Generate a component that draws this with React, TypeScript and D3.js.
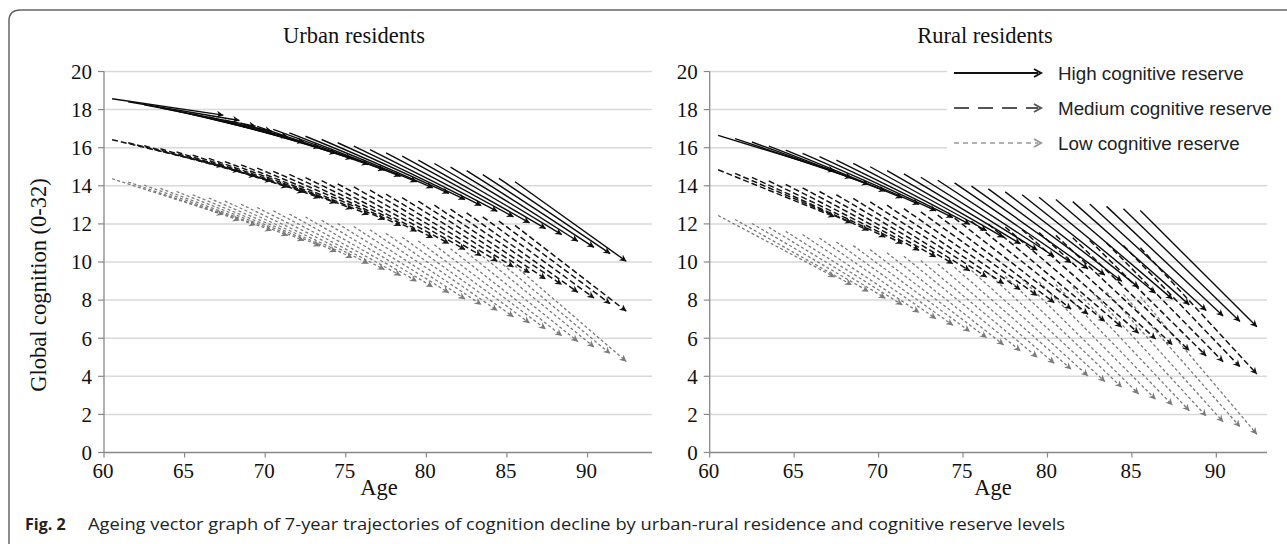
import React from "react";
import * as d3 from "d3";

// baseline age of each trajectory and the age 7 years later
const ageStart = [60.5, 61.5, 62.5, 63.5, 64.5, 65.5, 66.5, 67.5, 68.5, 69.5, 70.5, 71.5, 72.5, 73.5, 74.5, 75.5, 76.5, 77.5, 78.5, 79.5, 80.5, 81.5, 82.5, 83.5, 84.5, 85.5];
const ageEnd = [67.4, 68.4, 69.4, 70.4, 71.4, 72.4, 73.4, 74.4, 75.4, 76.4, 77.4, 78.4, 79.4, 80.4, 81.4, 82.4, 83.4, 84.4, 85.4, 86.4, 87.4, 88.4, 89.4, 90.4, 91.4, 92.4];

const urbanHighStart = [18.57, 18.41, 18.25, 18.09, 17.93, 17.77, 17.61, 17.45, 17.29, 17.12, 16.96, 16.78, 16.6, 16.43, 16.26, 16.08, 15.9, 15.73, 15.56, 15.35, 15.17, 14.98, 14.8, 14.59, 14.39, 14.21];
const urbanHighEnd = [17.71, 17.43, 17.13, 16.87, 16.57, 16.29, 16.0, 15.7, 15.42, 15.12, 14.82, 14.5, 14.21, 13.89, 13.6, 13.28, 12.96, 12.66, 12.37, 12.05, 11.75, 11.44, 11.09, 10.77, 10.44, 10.04];
const urbanMedStart = [16.42, 16.26, 16.1, 15.94, 15.78, 15.61, 15.44, 15.27, 15.1, 14.93, 14.76, 14.6, 14.43, 14.27, 14.1, 13.94, 13.77, 13.56, 13.38, 13.19, 12.98, 12.77, 12.58, 12.37, 12.15, 11.92];
const urbanMedEnd = [15.03, 14.77, 14.5, 14.24, 13.93, 13.66, 13.37, 13.1, 12.79, 12.49, 12.23, 11.91, 11.61, 11.27, 10.97, 10.65, 10.33, 10.04, 9.74, 9.43, 9.11, 8.81, 8.41, 8.11, 7.81, 7.42];
const urbanLowStart = [14.37, 14.2, 14.03, 13.86, 13.7, 13.53, 13.36, 13.2, 13.03, 12.86, 12.69, 12.52, 12.36, 12.19, 12.02, 11.86, 11.69, 11.5, 11.3, 11.1, 10.9, 10.7, 10.5, 10.3, 10.05, 9.8];
const urbanLowEnd = [12.49, 12.19, 11.93, 11.65, 11.39, 11.12, 10.84, 10.53, 10.22, 9.92, 9.6, 9.29, 8.99, 8.69, 8.38, 8.06, 7.76, 7.45, 7.12, 6.8, 6.48, 6.13, 5.83, 5.54, 5.19, 4.78];

const ruralHighStart = [16.65, 16.48, 16.3, 16.08, 15.87, 15.7, 15.53, 15.35, 15.18, 15.0, 14.8, 14.63, 14.45, 14.29, 14.15, 13.98, 13.84, 13.68, 13.53, 13.4, 13.28, 13.17, 13.05, 12.92, 12.8, 12.7];
const ruralHighEnd = [14.77, 14.42, 14.07, 13.72, 13.37, 13.02, 12.68, 12.33, 11.98, 11.64, 11.29, 10.95, 10.62, 10.29, 9.96, 9.64, 9.31, 8.99, 8.67, 8.36, 8.05, 7.75, 7.45, 7.16, 6.88, 6.6];
const ruralMedStart = [14.84, 14.65, 14.44, 14.25, 14.07, 13.89, 13.7, 13.53, 13.34, 13.16, 12.98, 12.8, 12.63, 12.46, 12.3, 12.14, 11.99, 11.84, 11.69, 11.55, 11.4, 11.27, 11.13, 11.0, 10.87, 10.75];
const ruralMedEnd = [12.37, 12.05, 11.66, 11.31, 10.96, 10.61, 10.26, 9.91, 9.54, 9.21, 8.86, 8.54, 8.23, 7.87, 7.53, 7.26, 6.87, 6.58, 6.26, 5.96, 5.65, 5.35, 5.07, 4.77, 4.5, 4.12];
const ruralLowStart = [12.44, 12.23, 12.02, 11.82, 11.61, 11.44, 11.26, 11.05, 10.86, 10.65, 10.48, 10.3, 10.08, 9.9, 9.72, 9.56, 9.4, 9.25, 9.1, 8.96, 8.82, 8.68, 8.55, 8.42, 8.3, 8.18];
const ruralLowEnd = [9.21, 8.8, 8.45, 8.1, 7.75, 7.35, 7.02, 6.68, 6.35, 6.02, 5.65, 5.33, 5.0, 4.68, 4.37, 4.02, 3.72, 3.42, 3.07, 2.79, 2.49, 2.19, 1.91, 1.61, 1.35, 0.96];

const xTicks = [60, 65, 70, 75, 80, 85, 90];
const yTicks = [0, 2, 4, 6, 8, 10, 12, 14, 16, 18, 20];
const levels = ["High cognitive reserve", "Medium cognitive reserve", "Low cognitive reserve"];

const serif = "'Liberation Serif', 'Times New Roman', serif";
const sans = "'Liberation Sans', Arial, sans-serif";

const styles = [
  { color: "#0d0d0d", dash: null, width: 1.4, marker: "ahHigh" },
  { color: "#141414", dash: "6,3", width: 1.5, marker: "ahMed" },
  { color: "#7a7a7a", dash: "3,2.4", width: 1.3, marker: "ahLow" },
];

function Panel({ title, titleX, xMax, x0, x1, series }) {
  const x = d3.scaleLinear().domain([60, xMax]).range([x0, x1]);
  const y = d3.scaleLinear().domain([0, 20]).range([452.5, 71.5]);
  const order = [2, 1, 0];
  return (
    <g>
      <text x={titleX} y={43} textAnchor="middle" fontFamily={serif} fontSize={22.5} fill="#111">
        {title}
      </text>
      {yTicks.filter((t) => t > 0).map((t) => (
        <line key={"g" + t} x1={x0} x2={x1} y1={y(t)} y2={y(t)} stroke="#d9d9d9" strokeWidth={1.5} />
      ))}
      {yTicks.map((t) => (
        <g key={"y" + t}>
          <line x1={x0 - 6} x2={x0} y1={y(t)} y2={y(t)} stroke="#888" strokeWidth={1.2} />
          <text x={x0 - 12} y={y(t)} dy="0.35em" textAnchor="end" fontFamily={serif} fontSize={21} fill="#111">
            {t}
          </text>
        </g>
      ))}
      {xTicks.map((t) => (
        <g key={"x" + t}>
          <line x1={x(t)} x2={x(t)} y1={y(0)} y2={y(0) + 5} stroke="#888" strokeWidth={1.2} />
          <text x={x(t) - 1} y={y(0) + 25} textAnchor="middle" fontFamily={serif} fontSize={21} fill="#111">
            {t}
          </text>
        </g>
      ))}
      <line x1={x0} x2={x0} y1={y(0)} y2={y(20)} stroke="#888" strokeWidth={1.3} />
      <line x1={x0} x2={x1} y1={y(0)} y2={y(0)} stroke="#888" strokeWidth={1.3} />
      {order.map((k) => {
        const s = series[k];
        const st = styles[k];
        return (
          <g key={"s" + k}>
            {s.start.map((v, i) => (
              <line
                key={i}
                x1={x(ageStart[i])}
                y1={y(v)}
                x2={x(ageEnd[i])}
                y2={y(s.end[i])}
                stroke={st.color}
                strokeWidth={st.width}
                strokeDasharray={st.dash || undefined}
                markerEnd={`url(#${st.marker})`}
              />
            ))}
          </g>
        );
      })}
    </g>
  );
}

export default function App() {
  const urban = [
    { start: urbanHighStart, end: urbanHighEnd },
    { start: urbanMedStart, end: urbanMedEnd },
    { start: urbanLowStart, end: urbanLowEnd },
  ];
  const rural = [
    { start: ruralHighStart, end: ruralHighEnd },
    { start: ruralMedStart, end: ruralMedEnd },
    { start: ruralLowStart, end: ruralLowEnd },
  ];
  const legendY = [73, 108, 143];
  const legendColor = ["#111", "#555", "#999"];
  const legendDash = [null, "15,9", "5,4"];
  return (
    <div style={{ position: "fixed", left: 0, top: 0 }}>
      <svg width={1287} height={544} style={{ display: "block", background: "#fff" }}>
        <defs>
          {styles.map((st) => (
            <marker
              key={st.marker}
              id={st.marker}
              viewBox="0 0 10 10"
              refX={9.5}
              refY={5}
              markerWidth={8.5}
              markerHeight={7}
              markerUnits="userSpaceOnUse"
              orient="auto"
            >
              <path d="M0,0 L10,5 L0,10 L3,5 z" fill={st.color} />
            </marker>
          ))}
        </defs>
        <path d="M9,544 L9,21 Q9,10 20,10 L1287,10" fill="none" stroke="#666" strokeWidth={1.5} />

        <Panel title="Urban residents" titleX={354} xMax={94} x0={104} x1={652} series={urban} />
        <Panel title="Rural residents" titleX={985} xMax={93} x0={709.7} x1={1267} series={rural} />

        <text x={38} y={285} transform="rotate(-90 38 285)" dy="0.35em" textAnchor="middle" fontFamily={serif} fontSize={22.5} fill="#111">
          Global cognition (0-32)
        </text>
        <text x={379} y={495} textAnchor="middle" fontFamily={serif} fontSize={22.5} fill="#111">
          Age
        </text>
        <text x={993} y={495} textAnchor="middle" fontFamily={serif} fontSize={22.5} fill="#111">
          Age
        </text>

        <rect x={947} y={56} width={340} height={104} fill="#fff" />
        {levels.map((lab, i) => (
          <g key={lab}>
            <line
              x1={954}
              x2={1038}
              y1={legendY[i]}
              y2={legendY[i]}
              stroke={legendColor[i]}
              strokeWidth={i === 2 ? 1.6 : 2}
              strokeDasharray={legendDash[i] || undefined}
            />
            <path
              d={`M${1034},${legendY[i] - 4} L${1041},${legendY[i]} L${1034},${legendY[i] + 4}`}
              fill="none"
              stroke={legendColor[i]}
              strokeWidth={2}
            />
            <text x={1058} y={legendY[i]} dy="0.35em" fontFamily={sans} fontSize={18.8} fill="#222">
              {lab}
            </text>
          </g>
        ))}

        <text x={25} y={530} fontFamily="'Open Sans', sans-serif" fontSize={16} fill="#222">
          <tspan fontWeight="bold">Fig. 2</tspan>
        </text>
        <text x={88} y={530} fontFamily="'Open Sans', sans-serif" fontSize={16} fill="#222" textLength={977} lengthAdjust="spacingAndGlyphs">
          Ageing vector graph of 7-year trajectories of cognition decline by urban-rural residence and cognitive reserve levels
        </text>
      </svg>
    </div>
  );
}
